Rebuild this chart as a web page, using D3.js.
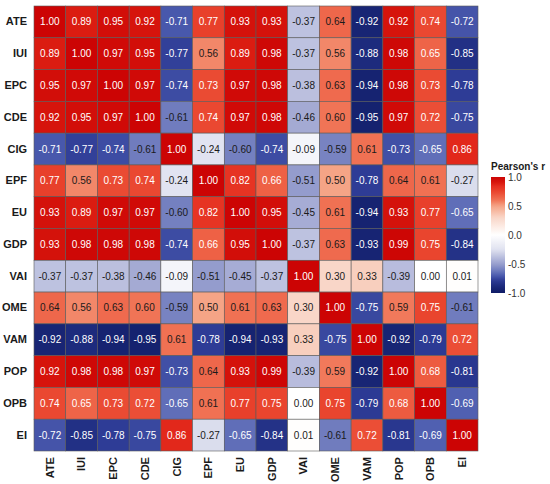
<!DOCTYPE html>
<html>
<head>
<meta charset="utf-8">
<script src="https://cdn.jsdelivr.net/npm/d3@7"></script>
<style>
  body { margin: 0; background: #fff; }
  svg text { font-family: "Liberation Sans", Arial, sans-serif; }
</style>
</head>
<body>
<div id="chart"></div>
<script>
const vars = ["ATE", "IUI", "EPC", "CDE", "CIG", "EPF", "EU", "GDP", "VAI", "OME", "VAM", "POP", "OPB", "EI"]

// correlation matrix, one row per variable
const rATE = [1.00, 0.89, 0.95, 0.92, -0.71, 0.77, 0.93, 0.93, -0.37, 0.64, -0.92, 0.92, 0.74, -0.72]
const rIUI = [0.89, 1.00, 0.97, 0.95, -0.77, 0.56, 0.89, 0.98, -0.37, 0.56, -0.88, 0.98, 0.65, -0.85]
const rEPC = [0.95, 0.97, 1.00, 0.97, -0.74, 0.73, 0.97, 0.98, -0.38, 0.63, -0.94, 0.98, 0.73, -0.78]
const rCDE = [0.92, 0.95, 0.97, 1.00, -0.61, 0.74, 0.97, 0.98, -0.46, 0.60, -0.95, 0.97, 0.72, -0.75]
const rCIG = [-0.71, -0.77, -0.74, -0.61, 1.00, -0.24, -0.60, -0.74, -0.09, -0.59, 0.61, -0.73, -0.65, 0.86]
const rEPF = [0.77, 0.56, 0.73, 0.74, -0.24, 1.00, 0.82, 0.66, -0.51, 0.50, -0.78, 0.64, 0.61, -0.27]
const rEU  = [0.93, 0.89, 0.97, 0.97, -0.60, 0.82, 1.00, 0.95, -0.45, 0.61, -0.94, 0.93, 0.77, -0.65]
const rGDP = [0.93, 0.98, 0.98, 0.98, -0.74, 0.66, 0.95, 1.00, -0.37, 0.63, -0.93, 0.99, 0.75, -0.84]
const rVAI = [-0.37, -0.37, -0.38, -0.46, -0.09, -0.51, -0.45, -0.37, 1.00, 0.30, 0.33, -0.39, 0.00, 0.01]
const rOME = [0.64, 0.56, 0.63, 0.60, -0.59, 0.50, 0.61, 0.63, 0.30, 1.00, -0.75, 0.59, 0.75, -0.61]
const rVAM = [-0.92, -0.88, -0.94, -0.95, 0.61, -0.78, -0.94, -0.93, 0.33, -0.75, 1.00, -0.92, -0.79, 0.72]
const rPOP = [0.92, 0.98, 0.98, 0.97, -0.73, 0.64, 0.93, 0.99, -0.39, 0.59, -0.92, 1.00, 0.68, -0.81]
const rOPB = [0.74, 0.65, 0.73, 0.72, -0.65, 0.61, 0.77, 0.75, 0.00, 0.75, -0.79, 0.68, 1.00, -0.69]
const rEI  = [-0.72, -0.85, -0.78, -0.75, 0.86, -0.27, -0.65, -0.84, 0.01, -0.61, 0.72, -0.81, -0.69, 1.00]

const matrix = [rATE, rIUI, rEPC, rCDE, rCIG, rEPF, rEU, rGDP, rVAI, rOME, rVAM, rPOP, rOPB, rEI]
const legendTicks = [1.0, 0.5, 0.0, -0.5, -1.0]

const W = 550, H = 484
const GRID = { LEFT: 34, TOP: 6, RIGHT: 478, BOTTOM: 451 }

const cells = []
matrix.forEach((row, i) => row.forEach((v, j) => cells.push({ row: vars[i], col: vars[j], value: v })))

const svg = d3.select("#chart").append("svg")
  .attr("width", W)
  .attr("height", H)

const x = d3.scaleBand().domain(vars).range([GRID.LEFT, GRID.RIGHT])
const y = d3.scaleBand().domain(vars).range([GRID.TOP, GRID.BOTTOM])

// palette: navy - white - red
const color = d3.scaleLinear()
  .domain([-1, -0.9, -0.78, -0.7, -0.6, -0.5, -0.25, 0, 0.3, 0.5, 0.6, 0.65, 0.75, 0.85, 0.9, 1])
  .range(["#0f1b66", "#1a2878", "#2e3c96", "#4c5caf", "#7480c0", "#989fce", "#e0e2f0", "#ffffff",
          "#f9d6c8", "#f5a486", "#f07456", "#ee6448", "#e9452e", "#e52c1e", "#d8180e", "#cc0404"])
  .clamp(true)

// cells
svg.append("g").selectAll("rect")
  .data(cells)
  .enter().append("rect")
    .attr("x", d => x(d.col))
    .attr("y", d => y(d.row))
    .attr("width", x.bandwidth())
    .attr("height", y.bandwidth())
    .attr("fill", d => color(d.value))
    .attr("stroke", "#5a5a5a")
    .attr("stroke-width", 0.6)

svg.append("g").selectAll("text")
  .data(cells)
  .enter().append("text")
    .attr("x", d => x(d.col) + x.bandwidth() / 2)
    .attr("y", d => y(d.row) + y.bandwidth() / 2)
    .attr("dy", "0.35em")
    .attr("text-anchor", "middle")
    .attr("font-size", 10)
    .attr("fill", d => Math.abs(d.value) >= 0.65 ? "#ffffff" : "#1a1a1a")
    .text(d => d.value.toFixed(2))

// axes
const yAxis = svg.append("g")
  .attr("transform", `translate(${GRID.LEFT}, 0)`)
  .call(d3.axisLeft(y).tickSize(0).tickPadding(7))
yAxis.select(".domain").remove()
yAxis.selectAll("text")
  .attr("font-size", 11)
  .attr("font-weight", "bold")
  .attr("fill", "#1a1a1a")

const xAxis = svg.append("g")
  .attr("transform", `translate(0, ${GRID.BOTTOM})`)
  .call(d3.axisBottom(x).tickSize(0).tickPadding(6))
xAxis.select(".domain").remove()
xAxis.selectAll("text")
  .attr("font-size", 11)
  .attr("font-weight", "bold")
  .attr("fill", "#1a1a1a")
  .attr("text-anchor", "end")
  .attr("transform", "rotate(-90)")
  .attr("dx", "-0.55em")
  .attr("dy", "0.35em")
  .attr("y", 0)
  .attr("x", 0)

// legend
const LEG = { X: 491, TOP: 177, BOTTOM: 293, WIDTH: 14 }
const defs = svg.append("defs")
const grad = defs.append("linearGradient")
  .attr("id", "legGrad")
  .attr("x1", 0).attr("x2", 0).attr("y1", 1).attr("y2", 0)
d3.range(0, 1.0001, 0.02).forEach(t => {
  grad.append("stop")
    .attr("offset", t)
    .attr("stop-color", color(-1 + 2 * t))
})

const legY = d3.scaleLinear().domain([-1, 1]).range([LEG.BOTTOM, LEG.TOP])

svg.append("rect")
  .attr("x", LEG.X)
  .attr("y", LEG.TOP)
  .attr("width", LEG.WIDTH)
  .attr("height", LEG.BOTTOM - LEG.TOP)
  .attr("fill", "url(#legGrad)")

svg.append("text")
  .attr("x", LEG.X)
  .attr("y", LEG.TOP - 7)
  .attr("font-size", 10)
  .attr("font-weight", "bold")
  .attr("fill", "#1a1a1a")
  .text("Pearson's r")

svg.append("g").selectAll("text")
  .data(legendTicks)
  .enter().append("text")
    .attr("x", LEG.X + LEG.WIDTH + 3)
    .attr("y", d => legY(d))
    .attr("dy", "0.35em")
    .attr("font-size", 10)
    .attr("fill", "#333333")
    .text(d => d.toFixed(1))
</script>
</body>
</html>
